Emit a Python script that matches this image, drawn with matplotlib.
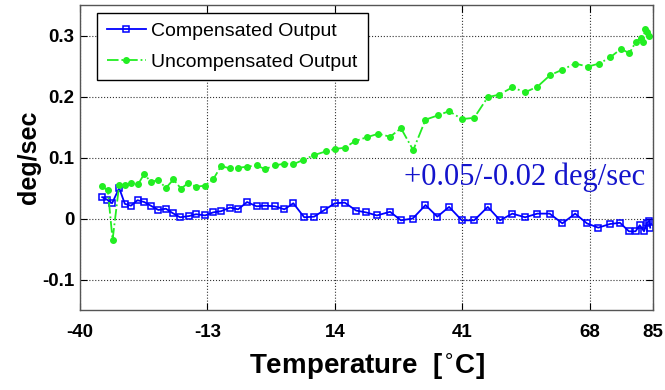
import matplotlib
matplotlib.use("Agg")
import matplotlib.pyplot as plt

# temperatures (deg C) and rate outputs (deg/sec)
comp_temp = [-35.3, -34.3, -33.2, -31.7, -30.5, -29.2, -27.8, -26.4, -25.0, -23.4,
             -21.8, -20.4, -18.8, -16.9, -15.4, -13.5, -11.8, -10.1, -8.2, -6.5,
             -4.6, -2.6, -0.8, 1.3, 3.3, 5.2, 7.5, 9.6, 11.8, 14.0,
             16.1, 18.5, 20.6, 22.9, 25.7, 28.0, 30.5, 33.2, 35.7, 38.2,
             40.9, 43.5, 46.4, 49.0, 51.6, 54.3, 56.9, 59.5, 62.2, 64.9,
             67.4, 69.8, 72.3, 74.4, 76.3, 77.7, 78.6, 79.5, 80.1, 80.6, 80.8]
comp_out = [0.035, 0.031, 0.025, 0.050, 0.024, 0.021, 0.030, 0.027, 0.021, 0.014,
            0.016, 0.009, 0.002, 0.004, 0.007, 0.005, 0.010, 0.012, 0.018, 0.015,
            0.027, 0.020, 0.021, 0.020, 0.015, 0.025, 0.002, 0.003, 0.014, 0.025,
            0.026, 0.013, 0.010, 0.005, 0.011, -0.003, 0.000, 0.022, 0.003, 0.019,
            -0.003, -0.003, 0.019, -0.003, 0.008, 0.002, 0.008, 0.008, -0.008, 0.008,
            -0.008, -0.015, -0.009, -0.007, -0.021, -0.021, -0.011, -0.021, -0.007, -0.004, -0.015]

uncomp_temp = [-35.4, -34.1, -33.1, -31.7, -30.5, -29.1, -27.7, -26.4, -25.0, -23.4,
               -21.8, -20.2, -18.6, -17.1, -15.4, -13.5, -11.8, -10.1, -8.2, -6.5,
               -4.6, -2.6, -0.8, 1.3, 3.3, 5.2, 7.3, 9.6, 12.1, 14.0,
               16.1, 18.3, 20.7, 23.2, 25.7, 28.0, 30.6, 33.2, 35.8, 38.2,
               40.9, 43.5, 46.4, 48.8, 51.6, 54.3, 56.9, 59.6, 62.2, 64.9,
               67.6, 70.0, 72.3, 74.6, 76.4, 77.8, 78.8, 79.3, 79.7, 80.2, 80.6]
uncomp_out = [0.053, 0.046, -0.035, 0.055, 0.055, 0.058, 0.056, 0.073, 0.060, 0.063,
              0.050, 0.064, 0.049, 0.058, 0.052, 0.054, 0.064, 0.086, 0.082, 0.083,
              0.085, 0.087, 0.081, 0.087, 0.090, 0.089, 0.096, 0.104, 0.110, 0.114,
              0.116, 0.127, 0.133, 0.139, 0.134, 0.148, 0.112, 0.162, 0.169, 0.176,
              0.163, 0.165, 0.199, 0.203, 0.215, 0.207, 0.216, 0.235, 0.244, 0.254,
              0.249, 0.254, 0.264, 0.278, 0.271, 0.290, 0.296, 0.290, 0.311, 0.305, 0.300]

xtick_pos = [-40, -13, 14, 41, 68, 81.4]
xtick_labels = ['-40', '-13', '14', '41', '68', '85']
ytick_pos = [-0.1, 0, 0.1, 0.2, 0.3]
ytick_labels = ['-0.1', '0', '0.1', '0.2', '0.3']

fig = plt.figure(figsize=(6.65, 3.9), dpi=100)
ax = fig.add_axes([80 / 665, 80 / 390, 573 / 665, 305 / 390])

ax.plot(comp_temp, comp_out, color='#0000ff', linewidth=1.3, marker='s',
        markersize=5, markerfacecolor='none', markeredgecolor='#0000ff',
        markeredgewidth=1.1, label='Compensated Output')
ax.plot(uncomp_temp, uncomp_out, color='#22ee22', linewidth=1.3, linestyle='-.',
        marker='.', markersize=8, label='Uncompensated Output')

ax.set_xlim(-40, 81.4)
ax.set_ylim(-0.15, 0.35)
ax.set_xticks(xtick_pos)
ax.set_xticklabels(xtick_labels, family='Liberation Sans', fontsize=13.5, weight='bold')
ax.set_yticks(ytick_pos)
ax.set_yticklabels(ytick_labels, family='Liberation Sans', fontsize=13.5, weight='bold')
ax.tick_params(direction='in', length=5, top=True, right=True, width=0.8)
ax.tick_params(axis='x', pad=10)
ax.tick_params(axis='y', pad=4)
ax.grid(True, linestyle=':', color='#333333', linewidth=0.8)
for s in ax.spines.values():
    s.set_color('#555555')
    s.set_linewidth(1.0)

ax.set_xlabel('Temperature  [$^{\\circ}$C]', family='Liberation Sans', fontsize=20,
              weight='bold', labelpad=8)
ax.set_ylabel('deg/sec', family='Liberation Sans', fontsize=18, weight='bold',
              labelpad=1)

ax.text(0.565, 0.41, '+0.05/-0.02 deg/sec', transform=ax.transAxes,
        family='Liberation Serif', fontsize=22, color='#1414cc')

leg = ax.legend(loc='upper left', bbox_to_anchor=(0.0297, 0.974), borderaxespad=0,
                fancybox=False, framealpha=1, edgecolor='black',
                prop={'family': 'Liberation Sans', 'size': 14},
                handlelength=2.0, handletextpad=0.3, borderpad=0.5,
                labelspacing=0.65)
leg.get_frame().set_linewidth(1.0)

fig.savefig('out.png', dpi=100, facecolor='white')
